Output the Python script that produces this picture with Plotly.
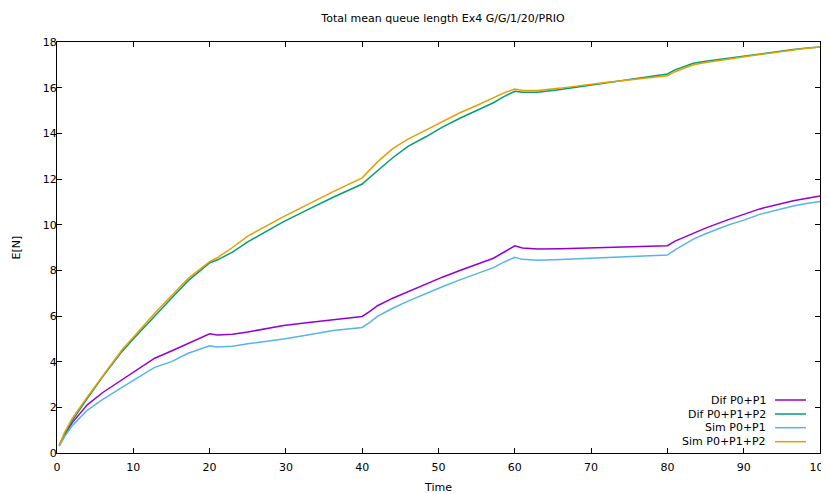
import plotly.graph_objects as go

time = [0.3, 1, 2, 3, 4, 6, 8.5, 10, 12.8, 15, 17.2, 20, 21, 23, 25, 29.7, 33, 36.2, 40, 41, 42,
        44, 46, 48.4, 50.5, 52.8, 55, 57.2, 58.5, 60, 61, 63, 66, 71.6, 80, 81, 83.4, 85, 87.8,
        90, 92.1, 96.5, 98, 100]

dif_p0p1 = [0.33, 0.8, 1.33, 1.72, 2.12, 2.65, 3.2, 3.5, 4.15, 4.47, 4.8, 5.22, 5.17, 5.2, 5.3,
            5.58, 5.72, 5.83, 5.98, 6.2, 6.45, 6.78, 7.07, 7.4, 7.7, 7.99, 8.27, 8.53, 8.78, 9.07,
            8.98, 8.93, 8.95, 9.0, 9.08, 9.28, 9.62, 9.85, 10.2, 10.45, 10.69, 11.05, 11.15, 11.26]
dif_p0p1p2 = [0.33, 0.85, 1.42, 1.93, 2.4, 3.35, 4.44, 4.99, 6.01, 6.78, 7.55, 8.33, 8.45, 8.8,
              9.25, 10.13, 10.68, 11.2, 11.78, 12.05, 12.36, 12.93, 13.43, 13.86, 14.27, 14.66,
              15.0, 15.34, 15.6, 15.84, 15.8, 15.8, 15.92, 16.2, 16.6, 16.78, 17.07, 17.16, 17.29,
              17.39, 17.48, 17.67, 17.73, 17.78]
sim_p0p1 = [0.3, 0.72, 1.2, 1.55, 1.88, 2.35, 2.88, 3.18, 3.75, 4.0, 4.37, 4.7, 4.64, 4.68, 4.78,
            4.99, 5.18, 5.36, 5.5, 5.72, 5.98, 6.34, 6.65, 7.0, 7.28, 7.58, 7.86, 8.12, 8.35, 8.57,
            8.48, 8.44, 8.47, 8.56, 8.67, 8.9, 9.37, 9.6, 9.96, 10.2, 10.45, 10.82, 10.92, 11.01]
sim_p0p1p2 = [0.35, 0.9, 1.52, 2.0, 2.47, 3.38, 4.51, 5.07, 6.12, 6.89, 7.65, 8.38, 8.55, 9.0,
              9.5, 10.35, 10.92, 11.45, 12.05, 12.42, 12.75, 13.33, 13.75, 14.15, 14.52, 14.9,
              15.22, 15.54, 15.76, 15.94, 15.88, 15.88, 15.98, 16.22, 16.52, 16.7, 17.0, 17.1,
              17.25, 17.35, 17.45, 17.65, 17.72, 17.78]

names = ["Dif P0+P1", "Dif P0+P1+P2", "Sim P0+P1", "Sim P0+P1+P2"]
series = [dif_p0p1, dif_p0p1p2, sim_p0p1, sim_p0p1p2]
colors = ["#9400d3", "#009e73", "#56b4e9", "#e69f00"]

x_ticks = list(range(0, 101, 10))
y_ticks = list(range(0, 19, 2))

FONT = "DejaVu Sans"
fig = go.Figure()
for name, ys, c in zip(names, series, colors):
    fig.add_trace(go.Scatter(x=time, y=ys, mode="lines", name=name,
                             line=dict(color=c, width=1.5), showlegend=False))

# The page body has an 8px margin, so the figure is laid out 8px up/left of screen coords
OFF = 8
W, H = 829 - OFF, 494 - OFF
ml, mt = 57 - OFF, 42 - OFF
mr = W - (820 - OFF)
mb = H - (453 - OFF)
pw, ph = W - ml - mr, H - mt - mb

# gnuplot-style key: right-aligned text followed by a line sample
key_rows = [400, 414, 427.7, 441.7]
for name, c, yy in zip(names, colors, key_rows):
    yp = 1 - (yy - OFF - mt) / ph
    fig.add_annotation(x=(768 - OFF - ml) / pw, y=yp, xref="paper", yref="paper", text=name,
                       showarrow=False, xanchor="right", yanchor="middle",
                       font=dict(family=FONT, size=11, color="#000"))
    fig.add_shape(type="line", xref="paper", yref="paper",
                  x0=(775 - OFF - ml) / pw, x1=(806 - OFF - ml) / pw, y0=yp, y1=yp,
                  line=dict(color=c, width=1.5))

fig.update_layout(
    width=W, height=H,
    margin=dict(l=ml, r=mr, t=mt, b=mb, autoexpand=False),
    paper_bgcolor="white", plot_bgcolor="white",
    font=dict(family=FONT, size=11, color="#000"),
    title=dict(text="Total mean queue length Ex4 G/G/1/20/PRIO", x=(443 - OFF) / W,
               xanchor="center", xref="container",
               y=1 - (18 - OFF) / H, yanchor="middle", yref="container",
               font=dict(family=FONT, size=11, color="#000")),
    xaxis=dict(range=[0, 100], tickvals=x_ticks, ticks="inside", ticklen=5, tickwidth=1,
               tickcolor="#000", mirror="ticks", showline=True, linecolor="#000", linewidth=1.2,
               showgrid=False, zeroline=False, ticklabelstandoff=4, automargin=False,
               ticklabeloverflow="allow",
               title=dict(text="Time", standoff=11, font=dict(family=FONT, size=11))),
    yaxis=dict(range=[0, 18], tickvals=y_ticks, ticks="inside", ticklen=5, tickwidth=1,
               tickcolor="#000", mirror="ticks", showline=True, linecolor="#000", linewidth=1.2,
               showgrid=False, zeroline=False, ticklabelstandoff=-3, automargin=False,
               ticklabeloverflow="allow",
               title=dict(text="E[N]", standoff=19, font=dict(family=FONT, size=11))),
)

fig.write_html("out.html")
